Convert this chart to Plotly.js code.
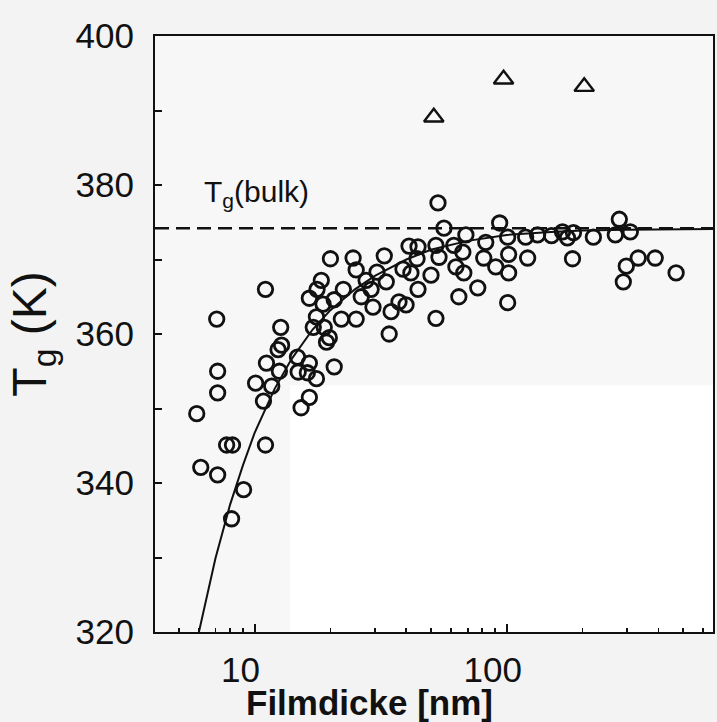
<!DOCTYPE html>
<html>
<head>
<meta charset="utf-8">
<script src="https://cdn.plot.ly/plotly-3.0.1.min.js"></script>
<style>
  html, body { margin: 0; padding: 0; background: #f3f3f3; }
  #chart { width: 717px; height: 722px; }
</style>
</head>
<body>
<div id="chart"></div>
<script>
// Glass transition temperature of thin films vs. film thickness
// Open circles: measured Tg (K); triangles: separate series; solid line: fit
const filmThickness = [
  11.05, 7.08, 12.7, 12.8, 12.4, 11.15, 14.8, 14.9, 12.55, 7.14,
  10.1, 11.7, 7.14, 10.85, 15.3, 5.90, 7.75, 8.18, 11.05, 6.12,
  7.14, 9.05, 8.11, 16.5,
  20.0, 24.6, 32.7, 41.0, 44.5, 44.1, 25.3, 30.6, 38.8, 41.7,
  18.4, 17.7, 22.5, 33.3, 29.0, 27.7, 44.5, 16.5, 26.5, 18.7,
  20.7, 37.4, 39.9, 29.5, 34.8, 17.6, 22.1, 25.3, 18.9, 17.1,
  19.8, 19.3, 34.2, 20.7, 16.5, 17.6, 16.2,
  93.8, 56.4, 68.9, 82.6, 100.9, 118.9, 132.6, 150.6, 52.4, 61.7,
  67.0, 53.9, 81.1, 101.8, 121.1, 62.9, 67.6, 90.5, 101.8, 50.1,
  76.8, 64.6, 100.9, 52.4, 53.4,
  279.7, 166.5, 184.0, 174.2, 220.7, 269.7, 309.2, 182.4, 298.1, 332.5,
  388.1, 469.8, 290.1
];
const glassTemp = [
  366.0, 362.0, 360.9, 358.5, 357.9, 356.1, 356.9, 354.9, 355.0, 355.0,
  353.4, 353.0, 352.1, 351.0, 350.1, 349.3, 345.1, 345.1, 345.1, 342.1,
  341.1, 339.1, 335.2, 351.5,
  370.1, 370.2, 370.5, 371.8, 371.7, 370.1, 368.6, 368.3, 368.7, 368.2,
  367.2, 366.0, 366.0, 367.0, 366.0, 367.2, 366.0, 364.8, 365.0, 364.0,
  364.6, 364.3, 363.9, 363.6, 363.0, 362.3, 362.0, 362.0, 360.9, 360.9,
  359.5, 358.9, 360.0, 355.6, 356.1, 354.0, 354.8,
  374.9, 374.2, 373.3, 372.3, 373.0, 373.0, 373.3, 373.2, 371.9, 371.9,
  371.0, 370.3, 370.2, 370.7, 370.2, 369.0, 368.2, 369.0, 368.2, 367.9,
  366.2, 365.0, 364.2, 362.1, 377.6,
  375.4, 373.7, 373.6, 372.9, 373.0, 373.3, 373.7, 370.1, 369.1, 370.2,
  370.2, 368.2, 367.0
];

const triThickness = [51.4, 97.2, 203];
const triGlassTemp = [389.1, 394.2, 393.2];

const fitThickness = [5.9, 6, 7, 8, 9, 10, 12, 14, 17, 20, 25, 30, 40, 50, 70, 100, 150, 200, 300, 500, 700];
const fitGlassTemp = [318.6, 319.8, 329.9, 337.1, 342.4, 346.7, 352.6, 356.6, 360.6, 363.2, 366.0, 367.8, 370.0, 371.3, 372.5, 373.3, 373.7, 373.9, 374.0, 374.1, 374.1];

const TG_BULK = 374.2;

// axis ticks: labelled decades and the unlabelled digits in between
const majorTicks = [10, 100];
const majorTickText = ['10', '100'];
const minorTicks = [5, 6, 7, 8, 9, 20, 30, 40, 50, 60, 70, 80, 90, 200, 300, 400, 500, 600];

const ink = '#111111';
const font = 'Arial, "Liberation Sans", sans-serif';
const xRange = [Math.log10(4.03), Math.log10(658)];

const traces = [
  {
    x: fitThickness, y: fitGlassTemp, type: 'scatter', mode: 'lines',
    line: { color: ink, width: 2 }, hoverinfo: 'skip'
  },
  {
    x: filmThickness, y: glassTemp, type: 'scatter', mode: 'markers',
    marker: { symbol: 'circle-open', size: 14.5, color: ink, line: { width: 2.8, color: ink } }
  },
  {
    x: triThickness, y: triGlassTemp, type: 'scatter', mode: 'markers',
    marker: { symbol: 'triangle-up-open', size: 17, color: ink, line: { width: 2.4, color: ink } }
  },
  // carrier for the secondary x axis that holds the small in-between ticks
  {
    x: [], y: [], type: 'scatter', mode: 'none', xaxis: 'x2', yaxis: 'y', hoverinfo: 'skip'
  }
];

const layout = {
  width: 717, height: 722,
  margin: { l: 155, r: 4, t: 36, b: 90 },
  paper_bgcolor: '#f3f3f3',
  plot_bgcolor: '#f7f7f7',
  showlegend: false,
  font: { family: font, color: ink },
  xaxis: {
    type: 'log',
    range: xRange,
    showgrid: false, zeroline: false,
    showline: true, linecolor: ink, linewidth: 2, mirror: true,
    ticks: 'inside', ticklen: 8, tickwidth: 2, tickcolor: ink,
    tickvals: majorTicks, ticktext: majorTickText,
    ticklabelshift: -14, ticklabelstandoff: 6,
    tickfont: { size: 35, family: font, color: ink }
  },
  xaxis2: {
    type: 'log',
    range: xRange, autorange: false,
    overlaying: 'x', anchor: 'y', side: 'bottom',
    showgrid: false, zeroline: false, showline: false,
    ticks: 'inside', ticklen: 4, tickwidth: 1.8, tickcolor: ink,
    tickmode: 'array', tickvals: minorTicks, showticklabels: false
  },
  yaxis: {
    range: [320, 400],
    showgrid: false, zeroline: false,
    showline: true, linecolor: ink, linewidth: 2, mirror: true,
    ticks: 'inside', ticklen: 7, tickwidth: 2, tickcolor: ink,
    tick0: 320, dtick: 20,
    ticklabelstandoff: 12,
    tickfont: { size: 35, family: font, color: ink },
    minor: { ticks: 'inside', ticklen: 7, tickwidth: 2, tickcolor: ink, dtick: 10, showgrid: false },
    title: { text: 'T<sub>g</sub> (K)', font: { size: 48, family: font, color: ink }, standoff: 14 }
  },
  shapes: [
    {
      type: 'rect', xref: 'paper', yref: 'paper', layer: 'below',
      x0: 0.242, x1: 1, y0: 0, y1: 0.414,
      fillcolor: '#ffffff', line: { width: 0 }
    },
    {
      type: 'line', xref: 'paper', yref: 'y',
      x0: 0, x1: 1, y0: TG_BULK, y1: TG_BULK,
      line: { color: ink, width: 2.5, dash: '14px,7px' }
    }
  ],
  annotations: [
    {
      text: 'T<sub>g</sub>(bulk)', xref: 'paper', yref: 'y',
      x: 0.084, y: 378.9, xanchor: 'left', yanchor: 'middle', showarrow: false,
      font: { size: 30, family: font, color: ink }
    },
    {
      text: '<b>Filmdicke [nm]</b>', xref: 'paper', yref: 'paper',
      x: 0.384, y: -0.119, xanchor: 'center', yanchor: 'middle', showarrow: false,
      font: { size: 35, family: font, color: ink }
    }
  ]
};

Plotly.newPlot('chart', traces, layout, { displayModeBar: false, staticPlot: true });
</script>
</body>
</html>
